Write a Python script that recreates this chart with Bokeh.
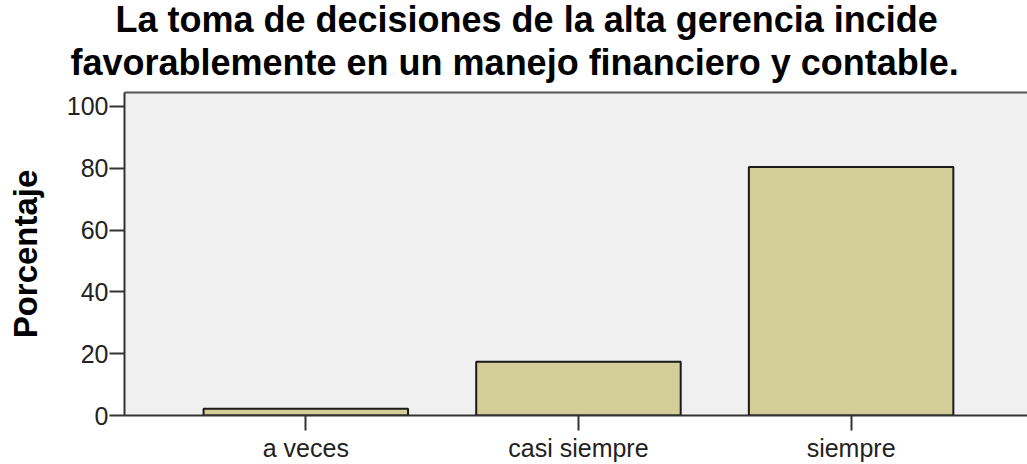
from bokeh.plotting import figure
from bokeh.models import ColumnDataSource, Range1d, FixedTicker, LinearAxis, Title
from bokeh.embed import file_html
from bokeh.resources import INLINE

categories = ["a veces", "casi siempre", "siempre"]
porcentaje = [2.2, 17.4, 80.4]
y_ticks = [0, 20, 40, 60, 80, 100]
title_lines = ["La toma de decisiones de la alta gerencia incide",
               "favorablemente en un manejo financiero y contable."]

FONT = "Liberation Sans"

src = ColumnDataSource(data=dict(x=list(range(len(categories))), top=porcentaje, cat=categories))

p = figure(width=1027, height=464, output_backend="svg", toolbar_location=None,
           x_range=Range1d(-0.665, 2.647), y_range=Range1d(0, 104.5),
           min_border_left=124, min_border_right=0, min_border_top=0, min_border_bottom=0)
p.title.visible = False

p.background_fill_color = "#f0f0f0"
p.border_fill_color = "white"
p.outline_line_color = None
p.grid.visible = False

p.vbar(x="x", top="top", width=0.75, bottom=0, source=src,
       fill_color="#d3ce98", line_color="#1a1a1a", line_width=2)

# y axis
ya = p.left[0]
ya.ticker = FixedTicker(ticks=y_ticks)
ya.axis_label = "Porcentaje"
ya.axis_label_text_font = FONT
ya.axis_label_text_font_size = "33px"
ya.axis_label_text_font_style = "bold"
ya.axis_label_text_color = "black"
ya.axis_label_standoff = 20
ya.major_label_text_font = FONT
ya.major_label_text_font_size = "25px"
ya.major_label_text_color = "#222222"
ya.major_label_standoff = 1
ya.major_tick_out = 15
ya.major_tick_in = 0
ya.minor_tick_out = 0
ya.minor_tick_in = 0
ya.axis_line_color = "#333333"
ya.axis_line_width = 2
ya.major_tick_line_color = "#333333"
ya.major_tick_line_width = 2

# x axis
xa = p.below[0]
xa.ticker = FixedTicker(ticks=list(range(len(categories))))
xa.major_label_overrides = {i: c for i, c in enumerate(categories)}
xa.major_label_text_font = FONT
xa.major_label_text_font_size = "25px"
xa.major_label_text_color = "#222222"
xa.major_label_standoff = 3
xa.major_tick_out = 15
xa.major_tick_in = 0
xa.minor_tick_out = 0
xa.minor_tick_in = 0
xa.axis_line_color = "#333333"
xa.axis_line_width = 2
xa.major_tick_line_color = "#333333"
xa.major_tick_line_width = 2

# top frame line (closest to the frame)
top = LinearAxis(ticker=FixedTicker(ticks=[]), major_label_text_font_size="0px",
                 major_tick_out=0, major_tick_in=0, minor_tick_out=0, minor_tick_in=0,
                 axis_line_color="#555555", axis_line_width=2)
p.add_layout(top, "above")

standoffs = [-21, 20]
offsets = [-9, -54]
for line, so, off in reversed(list(zip(title_lines, standoffs, offsets))):
    p.add_layout(Title(text=line, align="left", text_font=FONT, text_font_size="36px",
                       text_font_style="bold", text_color="black", standoff=so, offset=off), "above")

# small blank space above the title
p.add_layout(Title(text=" ", text_font_size="1px", standoff=4), "above")

open("out.html", "w").write(file_html(p, INLINE))
